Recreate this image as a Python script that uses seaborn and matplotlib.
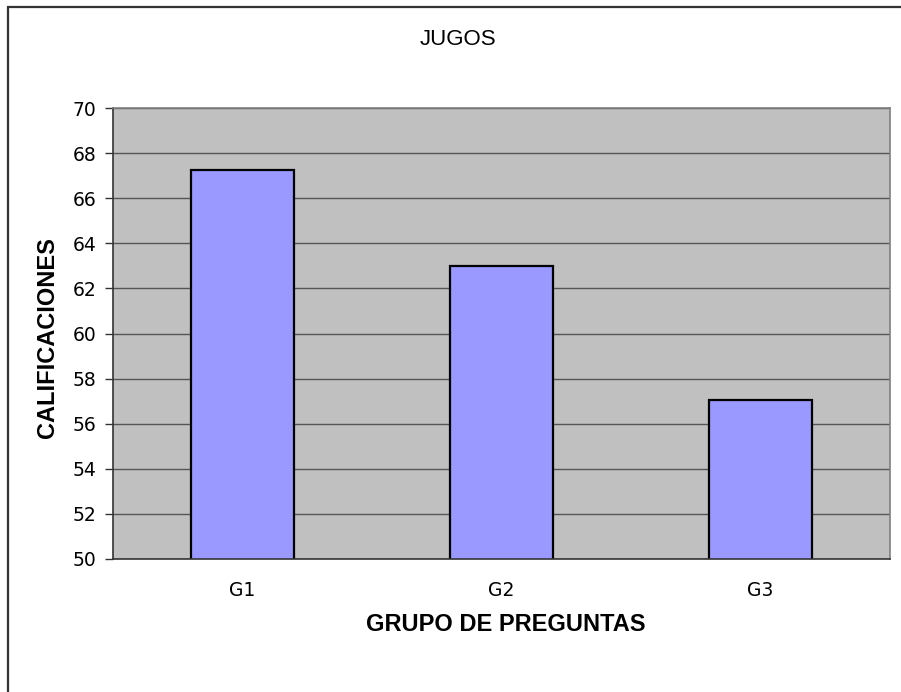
import pandas as pd
import seaborn as sns
import matplotlib.pyplot as plt
from matplotlib.patches import Rectangle

# data
grupos = ['G1', 'G2', 'G3']
calificaciones = [67.25, 63.0, 57.05]

df = pd.DataFrame({'Grupo': grupos, 'Calificacion': calificaciones})

sns.set_style('white')
plt.rcParams['font.family'] = ['DejaVu Sans']
plt.rcParams['text.color'] = 'black'
plt.rcParams['axes.labelcolor'] = 'black'
plt.rcParams['xtick.color'] = 'black'
plt.rcParams['ytick.color'] = 'black'

fig = plt.figure(figsize=(9.01, 6.92), dpi=100)
ax = fig.add_axes([0.1254, 0.1922, 0.8624, 0.6517])

sns.barplot(
    data=df,
    x='Grupo',
    y='Calificacion',
    color='#9999FF',
    saturation=1,
    width=0.40,
    edgecolor='black',
    linewidth=1.6,
    ax=ax
)

ax.set_facecolor('#C0C0C0')
ax.set_ylim(50, 70)
ax.set_xlim(-0.5, 2.5)
ax.set_yticks(range(50, 71, 2))
ax.yaxis.grid(True, color='#555555', linewidth=1)
ax.set_axisbelow(True)

# category boundary ticks on x axis
ax.set_xticks([-0.5, 0.5, 1.5, 2.5], minor=True)
ax.tick_params(axis='x', which='major', length=0, pad=16, labelsize=13.5)
ax.tick_params(axis='x', which='minor', length=6, width=1, color='#333333', direction='out')
ax.tick_params(axis='y', length=6, width=1, color='#333333', direction='out',
               labelsize=13.5, pad=6)
ax.tick_params(bottom=True, left=True)

for s in ['top', 'right']:
    ax.spines[s].set_color('#808080')
    ax.spines[s].set_linewidth(1.2)
for s in ['left', 'bottom']:
    ax.spines[s].set_color('#333333')
    ax.spines[s].set_linewidth(1.2)

ax.set_xlabel('GRUPO DE PREGUNTAS', fontsize=17, fontweight='bold',
              family='Liberation Sans', va='center')
ax.set_ylabel('CALIFICACIONES', fontsize=17, fontweight='bold',
              family='Liberation Sans', va='center')
ax.xaxis.set_label_coords(0.506, -0.146)
ax.yaxis.set_label_coords(-0.0837, 0.492)

fig.text(458 / 901, 1 - 39.5 / 692, 'JUGOS', ha='center', va='center',
         fontsize=16, family='Liberation Sans')

# chart frame (only left and top edges fall inside the image)
fig.patches.append(Rectangle((8 / 901, -0.05), 1.1, 1 - 7 / 692 + 0.05,
                             transform=fig.transFigure, fill=False,
                             edgecolor='#333333', linewidth=1.6))

plt.savefig('out.png', dpi=100)
